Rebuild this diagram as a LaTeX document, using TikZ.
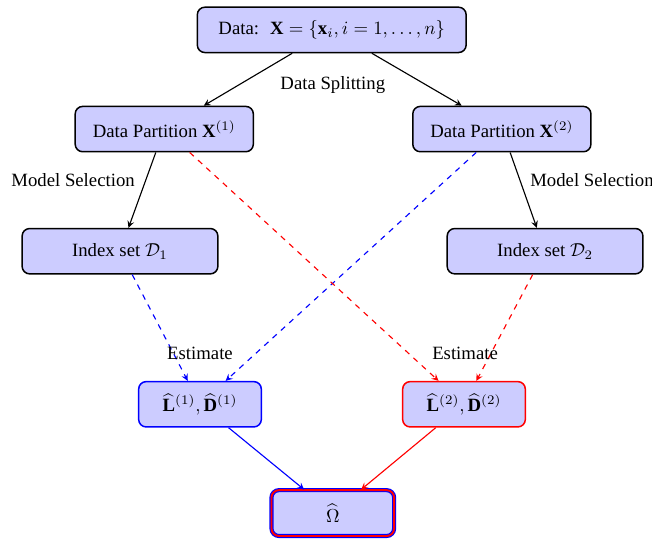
\documentclass[tikz,border=0pt]{standalone}
\usepackage{fontspec}
\setmainfont{Liberation Serif}
\usepackage{amsmath}
\tikzset{
    box/.style={draw, thick, rounded corners=4pt, fill=blue!20, minimum height=0.85cm, align=center},
}
\begin{document}
\begin{tikzpicture}[>=stealth, semithick]
    \useasboundingbox (0, 0) rectangle (12.225, -10.106);

    % Daten
    \node[box, minimum width=5.04cm] (data) at (6.22, -0.56) {Data:~ $\mathbf{X} = \{\mathbf{x}_i, i = 1, \ldots, n\}$};

    % Partitionen
    \node[box, minimum width=3.34cm] (part1) at (3.08, -2.42) {Data Partition $\mathbf{X}^{(1)}$};
    \node[box, minimum width=3.34cm] (part2) at (9.41, -2.42) {Data Partition $\mathbf{X}^{(2)}$};

    % Indexmengen
    \node[box, minimum width=3.67cm] (idx1) at (2.25, -4.71) {Index set $\mathcal{D}_1$};
    \node[box, minimum width=3.67cm] (idx2) at (10.22, -4.71) {Index set $\mathcal{D}_2$};

    % Schaetzer
    \node[box, draw=blue, minimum width=2.3cm] (est1) at (3.75, -7.58) {$\widehat{\mathbf{L}}^{(1)}, \widehat{\mathbf{D}}^{(1)}$};
    \node[box, draw=red, minimum width=2.3cm] (est2) at (8.7, -7.58) {$\widehat{\mathbf{L}}^{(2)}, \widehat{\mathbf{D}}^{(2)}$};

    % Ergebnis
    \node[box, draw=blue, double=red, double distance=1pt, line width=0.6pt, minimum width=2.3cm, minimum height=0.86cm] (omega) at (6.24, -9.62) {$\widehat{\Omega}$};

    % Pfeile
    \draw[->] (data) -- (part1);
    \draw[->] (data) -- (part2);
    \draw[->] (part1) -- (idx1);
    \draw[->] (part2) -- (idx2);

    \draw[->, blue, dashed] (idx1) -- (est1);
    \draw[->, blue, dashed] (part2) -- (est1);
    \draw[->, red, dashed] (part1) -- (est2);
    \draw[->, red, dashed] (idx2) -- (est2);

    \draw[->, blue] (est1) -- (omega);
    \draw[->, red] (est2) -- (omega);

    % Beschriftungen
    \node (split) at (6.24, -1.59) {Data Splitting};
    \node (sel1) at (1.37, -3.38) {Model Selection};
    \node (sel2) at (11.1, -3.38) {Model Selection};
    \node (esti1) at (3.75, -6.62) {Estimate};
    \node (esti2) at (8.72, -6.62) {Estimate};
\end{tikzpicture}
\end{document}
